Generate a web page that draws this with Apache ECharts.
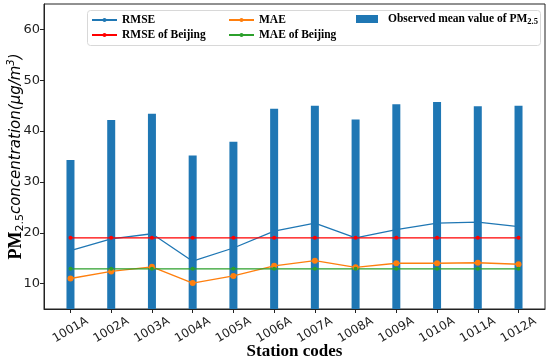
<!DOCTYPE html>
<html>
<head>
<meta charset="utf-8">
<script src="https://cdn.jsdelivr.net/npm/echarts@6/dist/echarts.min.js"></script>
<style>html,body{margin:0;padding:0;background:#fff;}#c{width:550px;height:361px;}</style>
</head>
<body>
<div id="c"></div>
<script>
var categories = ['1001A','1002A','1003A','1004A','1005A','1006A','1007A','1008A','1009A','1010A','1011A','1012A'];
var observedMean = [34.3, 42.2, 43.4, 35.2, 37.9, 44.4, 45.0, 42.3, 45.3, 45.7, 44.9, 45.0];
var rmse = [16.5, 18.8, 19.8, 14.4, 17.0, 20.3, 21.9, 19.0, 20.6, 21.9, 22.1, 21.2];
var mae = [11.0, 12.4, 13.3, 10.1, 11.5, 13.5, 14.5, 13.2, 14.0, 14.0, 14.1, 13.8];
var rmseBeijing = 19.0;
var maeBeijing = 12.9;
var yTicks = [10, 20, 30, 40, 50, 60];

var idx = categories.map(function(_, i){ return i; });
function pairs(arr){ return arr.map(function(v,i){ return [i, v]; }); }
function constPairs(v){ return categories.map(function(_, i){ return [i, v]; }); }

var chart = echarts.init(document.getElementById('c'));
var legendText = {fontFamily:'Liberation Serif', fontWeight:'bold', fontSize:11.5, color:'#000', lineHeight: 14};
chart.setOption({
  animation: false,
  grid: {left: 44, right: 5, top: 4, bottom: 52, show: true, borderColor: '#222', borderWidth: 1, outerBoundsMode: 'none', containLabel: false},
  graphic: [{
    type: 'rect', left: 87, top: 10, z: 0,
    shape: {width: 453, height: 35, r: 3},
    style: {fill: 'rgba(255,255,255,0.8)', stroke: '#d8d8d8', lineWidth: 1}
  }],
  legend: [
    {data: ['RMSE', 'RMSE of Beijing'], orient: 'vertical', left: 91, top: 13, padding: 0, itemGap: 1, itemWidth: 25, itemHeight: 5, textStyle: legendText, z: 5},
    {data: ['MAE', 'MAE of Beijing'], orient: 'vertical', left: 228, top: 13, padding: 0, itemGap: 1, itemWidth: 25, itemHeight: 5, textStyle: legendText, z: 5},
    {data: [{name: 'Observed mean value of PM2.5', icon: 'rect'}], left: 356, top: 12, padding: 0, itemWidth: 22, itemHeight: 8,
     formatter: function(){ return 'Observed mean value of PM{s|2.5}'; },
     textStyle: Object.assign({}, legendText, {padding: [0,0,0,5], rich: {s: {fontFamily:'Liberation Serif', fontWeight:'bold', fontSize: 8.5, padding: [6,0,0,0], color:'#000'}}}), z: 5}
  ],
  xAxis: {
    type: 'value', min: -0.65, max: 11.65,
    splitLine: {show: false},
    axisLine: {show: true, onZero: false, lineStyle: {color: '#222'}},
    axisTick: {show: true, length: 4, customValues: idx, lineStyle: {color: '#222'}},
    axisLabel: {customValues: idx, formatter: function(v){ return categories[Math.round(v)]; },
      rotate: 30, align: 'center', verticalAlign: 'middle', margin: 21,
      fontFamily: 'DejaVu Sans', fontSize: 12, color: '#222'},
    name: 'Station codes', nameLocation: 'middle', nameGap: 43, nameMoveOverlap: false,
    nameTextStyle: {fontFamily: 'Liberation Serif', fontWeight: 'bold', fontSize: 17, color: '#000', verticalAlign: 'middle'}
  },
  yAxis: {
    type: 'value', min: 5, max: 65,
    splitLine: {show: false},
    axisLine: {show: true, onZero: false, lineStyle: {color: '#222'}},
    axisTick: {show: true, length: 4, customValues: yTicks, lineStyle: {color: '#222'}},
    axisLabel: {customValues: yTicks, fontFamily: 'DejaVu Sans', fontSize: 13, color: '#222', margin: 4},
    name: '{b|PM}{s|2.5}{i|concentration(μg/m}{u|3}{i|)}',
    nameLocation: 'middle', nameRotate: 90, nameGap: 28, nameMoveOverlap: false,
    nameTextStyle: {
      verticalAlign: 'middle',
      rich: {
        b: {fontFamily: 'Liberation Serif', fontWeight: 'bold', fontSize: 18, color: '#000'},
        s: {fontFamily: 'DejaVu Sans', fontSize: 11, color: '#000', padding: [8,0,0,0]},
        i: {fontFamily: 'DejaVu Sans', fontStyle: 'italic', fontSize: 15, color: '#000'},
        u: {fontFamily: 'DejaVu Sans', fontStyle: 'italic', fontSize: 10, color: '#000', padding: [0,0,10,0]}
      }
    }
  },
  series: [
    {name: 'Observed mean value of PM2.5', type: 'bar', data: pairs(observedMean), barWidth: 8,
     itemStyle: {color: '#1f77b4'}, clip: true},
    {name: 'RMSE', type: 'line', data: pairs(rmse), symbol: 'circle', symbolSize: 3,
     itemStyle: {color: '#1f77b4'}, lineStyle: {width: 1.3}},
    {name: 'MAE', type: 'line', data: pairs(mae), symbol: 'circle', symbolSize: 6,
     itemStyle: {color: '#ff7f0e'}, lineStyle: {width: 1.3}},
    {name: 'RMSE of Beijing', type: 'line', data: constPairs(rmseBeijing), symbol: 'circle', symbolSize: 4,
     itemStyle: {color: '#ff0000'}, lineStyle: {width: 1.3}},
    {name: 'MAE of Beijing', type: 'line', data: constPairs(maeBeijing), symbol: 'circle', symbolSize: 4,
     itemStyle: {color: '#2ca02c'}, lineStyle: {width: 1.3}}
  ]
});
</script>
</body>
</html>
